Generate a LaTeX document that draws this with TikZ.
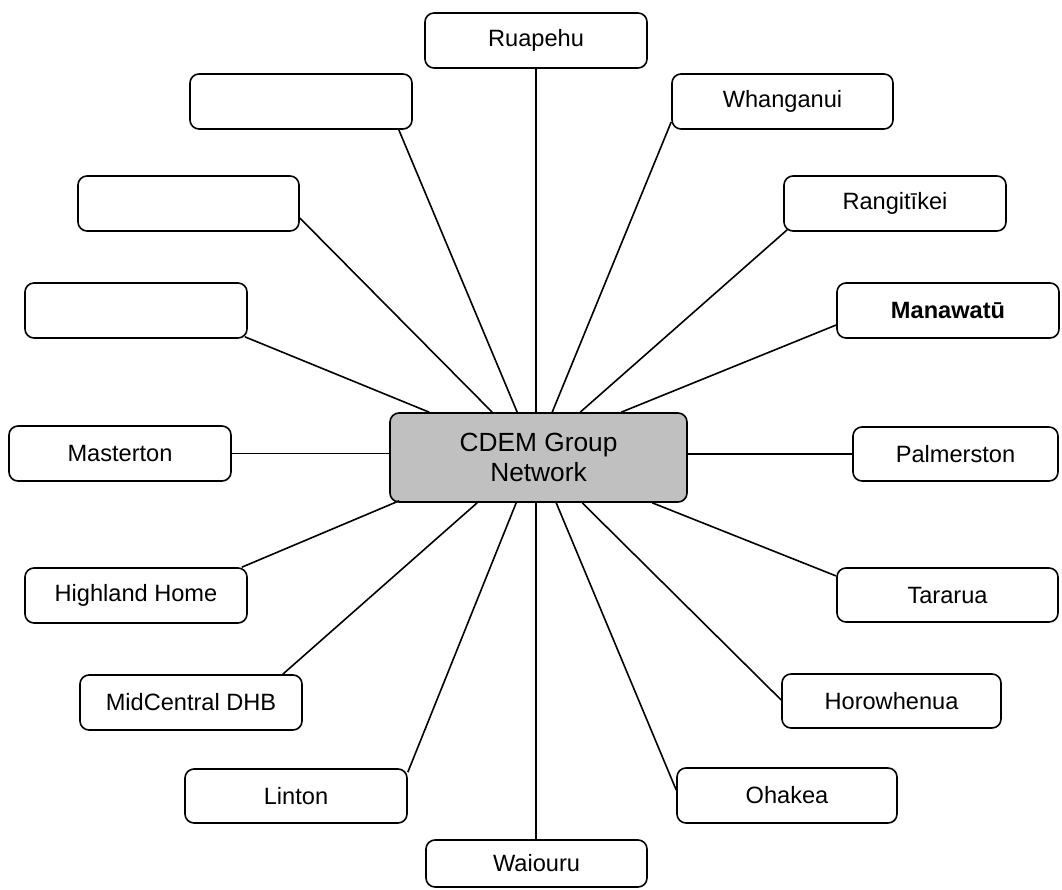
\documentclass[tikz,border=0pt]{standalone}
\usepackage{fontspec}
\setmainfont{Liberation Sans}
\usetikzlibrary{calc}
\definecolor{hubgray}{HTML}{C0C0C0}
\tikzset{
  box/.style={draw=black, line width=1.6pt, rounded corners=9pt, fill=white, inner sep=0pt,
    font=\fontsize{23.6}{28}\selectfont},
  hub/.style={box, fill=hubgray, align=center, font=\fontsize{26.3}{29.5}\selectfont},
  link/.style={draw=black, line width=1.6pt},
}
\begin{document}
\begin{tikzpicture}[x=1pt,y=-1pt]
\useasboundingbox (0,0) rectangle (1062,890);
% nodes
\node[hub, minimum width=297pt, minimum height=89pt] (ctr) at (538.5,457.5) {CDEM Group\\Network};
\node[box, minimum width=222pt, minimum height=55pt] (ruapehu) at (536,40.5) {Ruapehu};
\node[box, minimum width=221pt, minimum height=55pt] (whang) at (782.5,101.5) {Whanganui};
\node[box, minimum width=222pt, minimum height=55pt] (e1) at (301,101.5) {};
\node[box, minimum width=221pt, minimum height=55pt] (e2) at (188.5,203.5) {};
\node[box, minimum width=222pt, minimum height=55pt] (rang) at (895,203.5) {Rangitīkei};
\node[box, minimum width=222pt, minimum height=55pt] (e3) at (136,310.5) {};
\node[box, minimum width=222pt, minimum height=55pt, font=\fontsize{23.6}{28}\selectfont\bfseries] (mana) at (948,310.5) {Manawatū};
\node[box, minimum width=222pt, minimum height=55pt] (master) at (120,453.5) {Masterton};
\node[box, minimum width=205pt, minimum height=54pt] (palm) at (955.5,454) {Palmerston};
\node[box, minimum width=222pt, minimum height=55pt] (high) at (136,595.5) {Highland Home};
\node[box, minimum width=221pt, minimum height=54pt] (tara) at (947.5,595) {Tararua};
\node[box, minimum width=222pt, minimum height=55pt] (midc) at (191,702.5) {MidCentral DHB};
\node[box, minimum width=219pt, minimum height=54pt] (horo) at (891.5,701) {Horowhenua};
\node[box, minimum width=222pt, minimum height=54pt] (linton) at (296,796) {Linton};
\node[box, minimum width=220pt, minimum height=55pt] (ohakea) at (787,795.5) {Ohakea};
\node[box, minimum width=221pt, minimum height=47pt] (waiouru) at (536.5,863.5) {Waiouru};
% connectors
\draw[link] (ruapehu.south) -- (ruapehu.south |- ctr.north);
\draw[link] ($(whang.west)+(0,20.5)$) -- ($(ctr.north west)+(163,0)$);
\draw[link] ($(e1.south east)+(-14,0)$) -- ($(ctr.north west)+(128,0)$);
\draw[link] ($(e2.east)+(0,14.5)$) -- ($(ctr.north west)+(103,0)$);
\draw[link] ($(rang.south west)+(4,-2)$) -- ($(ctr.north west)+(191,0)$);
\draw[link] ($(e3.south east)+(-3,-2)$) -- ($(ctr.north west)+(40,0)$);
\draw[link] ($(mana.west)+(0,14.5)$) -- ($(ctr.north west)+(232,0)$);
\draw[link] (master.east) -- (master.east -| ctr.west);
\draw[link] (palm.west) -- (palm.west -| ctr.east);
\draw[link] ($(high.north east)+(-6,0)$) -- ($(ctr.south west)+(10,-2)$);
\draw[link] ($(tara.west)+(0,-19)$) -- ($(ctr.south west)+(263,0)$);
\draw[link] ($(midc.north east)+(-20,0)$) -- ($(ctr.south west)+(88,0)$);
\draw[link] ($(horo.west)+(0,-1)$) -- ($(ctr.south west)+(193,0)$);
\draw[link] ($(linton.north east)+(0,4)$) -- ($(ctr.south west)+(127,0)$);
\draw[link] ($(ohakea.west)+(0,-5.5)$) -- ($(ctr.south west)+(167,0)$);
\draw[link] (waiouru.north -| ruapehu.south) -- (ruapehu.south |- ctr.south);
\end{tikzpicture}
\end{document}
